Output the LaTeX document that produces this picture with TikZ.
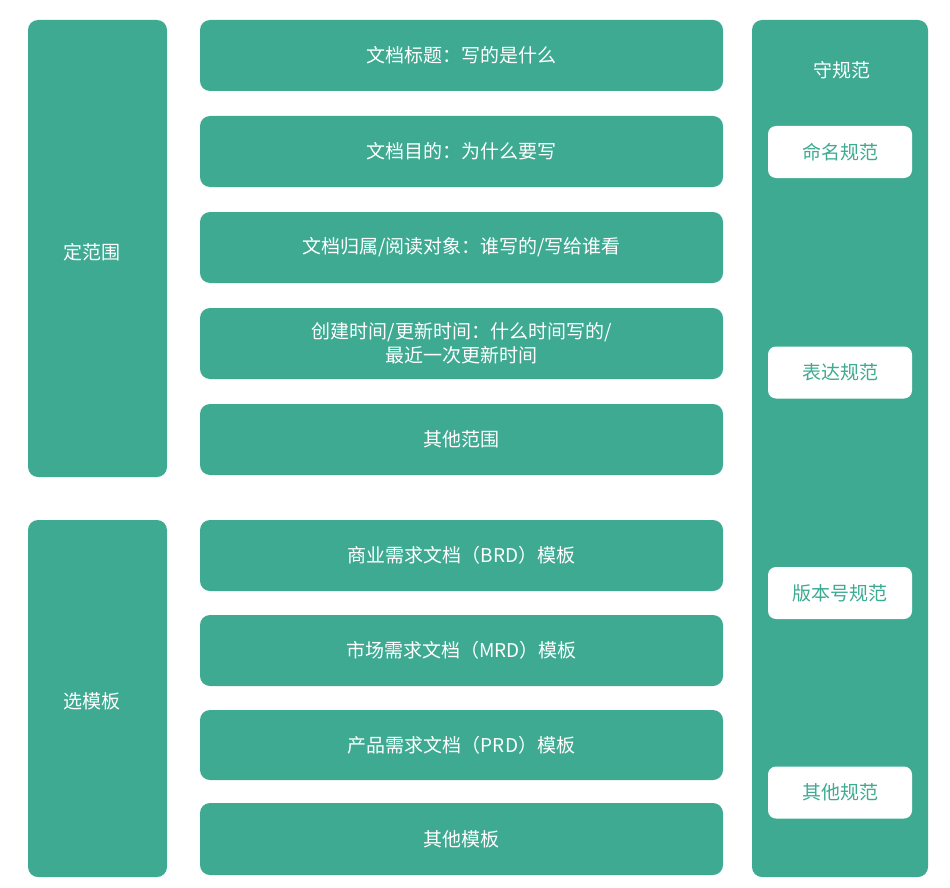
\documentclass[tikz,border=0pt]{standalone}
\usepackage{fontspec}
\setmainfont{Noto Sans CJK SC}
\usetikzlibrary{positioning}
\definecolor{teal}{HTML}{3EAA92}
\begin{document}
\begin{tikzpicture}[x=1pt,y=-1pt,
      bigbox/.style={fill=teal,rounded corners=10pt,text=white,font=\fontsize{19}{24}\selectfont,inner sep=0pt},
      item/.style={fill=teal,rounded corners=10pt,text=white,minimum width=523pt,minimum height=71pt,
        align=center,font=\fontsize{19}{24}\selectfont,inner sep=0pt},
      rule/.style={fill=white,rounded corners=8pt,text=teal,minimum width=144pt,minimum height=52pt,
        font=\fontsize{19}{24}\selectfont,inner sep=0pt}
      ]
      \useasboundingbox (0,0) rectangle (950,888);
      % left column
      \node[bigbox,minimum width=139pt,minimum height=457pt] (scope) at (97.5,248.5) {};
      \node[text=white,font=\fontsize{19}{24}\selectfont] at (92,252) {定范围};
      \node[bigbox,minimum width=139pt,minimum height=357pt] (tmpl) at (97.5,698.5) {};
      \node[text=white,font=\fontsize{19}{24}\selectfont] at (92,701) {选模板};

      % middle column
      \node[item] (title) at (461.5,55.5) {文档标题：写的是什么};
      \node[item] (goal) at (461.5,151.5) {文档目的：为什么要写};
      \node[item] (owner) at (461.5,247.5) {文档归属/阅读对象：谁写的/写给谁看};
      \node[item] (time) at (461.5,343.5) {创建时间/更新时间：什么时间写的/\\最近一次更新时间};
      \node[item] (otherscope) at (461.5,439.5) {其他范围};
      \node[item] (brd) at (461.5,555.5) {商业需求文档（BRD）模板};
      \node[item] (mrd) at (461.5,650.5) {市场需求文档（MRD）模板};
      \node[item,minimum height=70pt] (prd) at (461.5,745) {产品需求文档（PRD）模板};
      \node[item,minimum height=72pt] (othertmpl) at (461.5,839) {其他模板};

      % right column
      \node[bigbox,minimum width=176pt,minimum height=857pt] (norm) at (840,448.5) {};
      \node[text=white,font=\fontsize{19}{24}\selectfont] at (842,70) {守规范};
      \node[rule] (naming) at (840,152) {命名规范};
      \node[rule] (express) at (840,372.5) {表达规范};
      \node[rule] (version) at (840,593) {版本号规范};
      \node[rule] (otherrule) at (840,792.5) {其他规范};
\end{tikzpicture}
\end{document}
